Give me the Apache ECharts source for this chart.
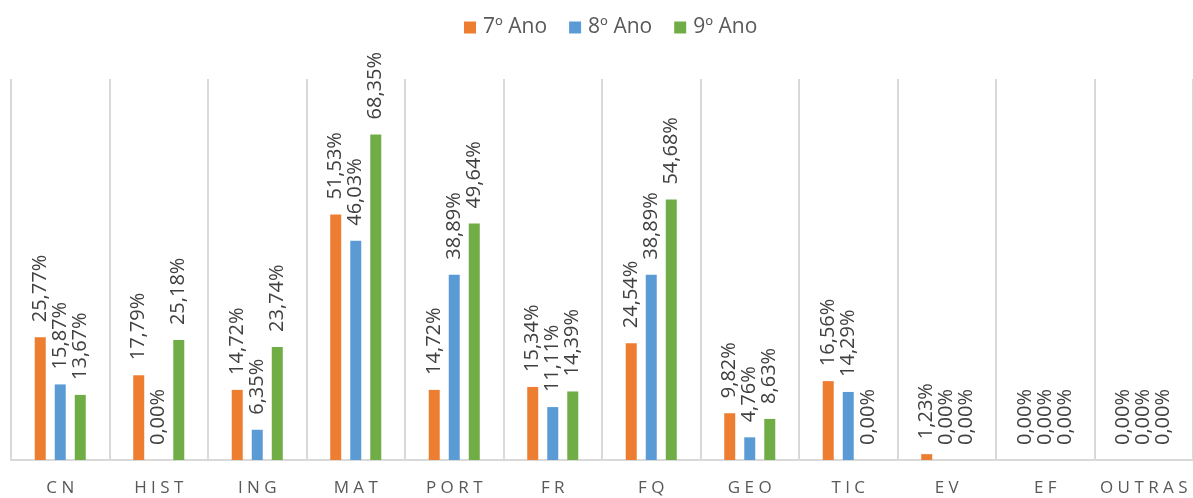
<!DOCTYPE html>
<html>
<head>
<meta charset="utf-8">
<script src="https://cdn.jsdelivr.net/npm/echarts@6/dist/echarts.min.js"></script>
<style>
  html, body { margin: 0; padding: 0; background: #fff; }
  #chart { width: 1193px; height: 498px; }
</style>
</head>
<body>
<div id="chart"></div>
<script>
const categories = ["CN", "HIST", "ING", "MAT", "PORT", "FR", "FQ", "GEO", "TIC", "EV", "EF", "OUTRAS"];
const seriesNames = ["7º Ano", "8º Ano", "9º Ano"];
const ano7 = [25.77, 17.79, 14.72, 51.53, 14.72, 15.34, 24.54, 9.82, 16.56, 1.23, 0, 0];
const ano8 = [15.87, 0, 6.35, 46.03, 38.89, 11.11, 38.89, 4.76, 14.29, 0, 0, 0];
const ano9 = [13.67, 25.18, 23.74, 68.35, 49.64, 14.39, 54.68, 8.63, 0, 0, 0, 0];
const colors = ["#ED7D31", "#5B9BD5", "#70AD47"];

const font = "'Open Sans', sans-serif";
const chart = echarts.init(document.getElementById("chart"));

function makeSeries(name, data, color) {
  return {
    name: name,
    type: "bar",
    data: data,
    barWidth: 11,
    barGap: "82%",
    itemStyle: { color: color },
    label: {
      show: true,
      position: "top",
      rotate: 90,
      align: "left",
      verticalAlign: "middle",
      distance: 15,
      fontFamily: font,
      fontSize: 20,
      color: "#404040",
      formatter: (p) => p.value.toFixed(2).replace(".", ",") + "%"
    }
  };
}

chart.setOption({
  animation: false,
  legend: {
    top: 12,
    left: 459,
    itemWidth: 12,
    itemHeight: 12,
    itemGap: 22,
    icon: "rect",
    textStyle: { fontFamily: font, fontSize: 21, color: "#595959", padding: [0, 0, 0, 2] },
    data: seriesNames
  },
  grid: { left: 11, right: -6, top: 79, bottom: 38 },
  xAxis: {
    type: "category",
    data: categories,
    axisLine: { lineStyle: { color: "#d9d9d9", width: 2 } },
    axisTick: { show: false },
    splitLine: { show: true, interval: 0, lineStyle: { color: "#d9d9d9", width: 2 } },
    axisLabel: {
      interval: 0,
      margin: 20,
      fontFamily: font,
      fontSize: 17,
      color: "#595959",
      formatter: (v) => v.split("").join(" ")
    }
  },
  yAxis: {
    type: "value",
    min: 0,
    max: 80,
    show: false,
    splitLine: { show: false }
  },
  series: [
    makeSeries(seriesNames[0], ano7, colors[0]),
    makeSeries(seriesNames[1], ano8, colors[1]),
    makeSeries(seriesNames[2], ano9, colors[2])
  ]
});
</script>
</body>
</html>
